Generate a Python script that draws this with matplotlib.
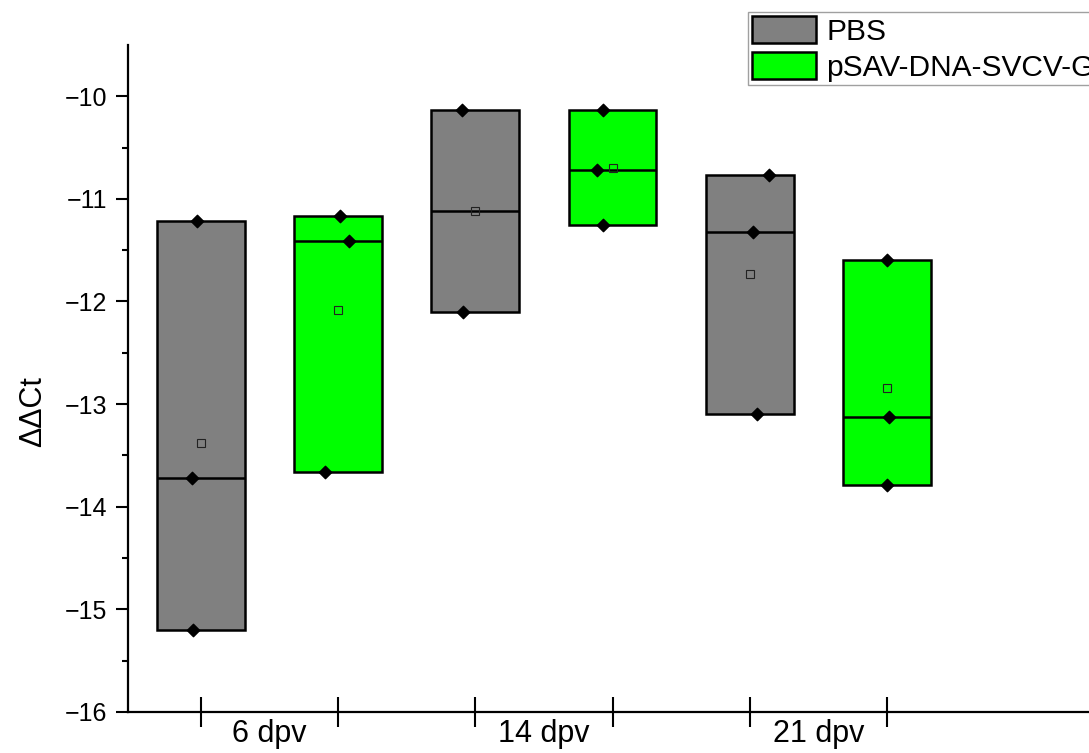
import numpy as np
import matplotlib.pyplot as plt
from matplotlib.ticker import FixedLocator

plt.rcParams['font.family'] = ['Liberation Sans', 'DejaVu Sans']

# данные: ΔΔCt по группам
groups = ['6 dpv', '14 dpv', '21 dpv']
series = ['PBS', 'pSAV-DNA-SVCV-G']
pbs = [[-11.22, -13.72, -15.20],
       [-10.13, -12.10],
       [-10.77, -11.32, -13.10]]
svcv = [[-11.17, -11.41, -13.66],
        [-10.13, -10.72, -11.25],
        [-11.60, -13.13, -13.79]]
# небольшой сдвиг точек по х (как в исходнике)
pbs_jit = [[-0.03, -0.065, -0.06], [-0.095, -0.09], [0.14, 0.02, 0.05]]
svcv_jit = [[0.015, 0.08, -0.095], [-0.07, -0.11, -0.07], [0.0, 0.015, 0.0]]
colors = ['#808080', '#00ff00']

fig = plt.figure(figsize=(10.89, 7.53), dpi=100)
ax = fig.add_axes([0.1175, 0.0545, 0.886, 0.8858])

w = 0.64
for s, (data, jits, col) in enumerate(zip([pbs, svcv], [pbs_jit, svcv_jit], colors)):
    for g, vals in enumerate(data):
        x = 1 + 2 * g + s
        v = np.array(vals)
        ax.bar(x, v.max() - v.min(), bottom=v.min(), width=w, color=col,
               edgecolor='black', linewidth=1.8, zorder=2,
               label=series[s] if g == 0 else None)
        ax.hlines(np.median(v), x - w / 2, x + w / 2, color='black', linewidth=1.8, zorder=3)
        ax.plot(x, v.mean(), marker='s', ms=6, mfc='none', mec='#222222', mew=0.8, zorder=4)
        ax.scatter(x + np.array(jits[g]), v, marker='D', s=40, color='black', zorder=5)

ax.set_xlim(0.468, 7.5)
ax.spines['top'].set_visible(False)
ax.spines['right'].set_visible(False)
for sp in ['left', 'bottom']:
    ax.spines[sp].set_linewidth(1.6)

yt = np.arange(-16, -9, 1)
ax.set_yticks(yt)
ax.set_yticklabels(['\u2212%d' % abs(t) for t in yt])
ax.yaxis.set_minor_locator(FixedLocator(np.arange(-15.5, -9.9, 1)))
ax.tick_params(axis='y', which='major', direction='out', length=9, width=1.5,
               labelsize=18, pad=6)
ax.tick_params(axis='y', which='minor', direction='out', length=4.5, width=1.5)
ax.set_ylim(-16, -9.5)

ax.xaxis.set_major_locator(FixedLocator([1, 2, 3, 4, 5, 6]))
ax.xaxis.set_major_formatter(plt.NullFormatter())
ax.xaxis.set_minor_locator(FixedLocator([1.5, 3.5, 5.5]))
ax.set_xticklabels(groups, minor=True)
ax.tick_params(axis='x', which='major', direction='inout', length=21, width=1.5)
ax.tick_params(axis='x', which='minor', length=0, labelsize=22, pad=5)

ax.set_ylabel('ΔΔCt', fontsize=22)
ax.yaxis.set_label_coords(-0.083, 0.45)

fig.legend(loc='upper left', bbox_to_anchor=(748 / 1089, 1 - 12 / 753),
           fontsize=21.5, frameon=True, fancybox=False, edgecolor='#888888',
           borderaxespad=0, borderpad=0.12, handlelength=2.15, handleheight=1.05,
           labelspacing=0.2, handletextpad=0.35)

plt.savefig('out.png', dpi=100)
